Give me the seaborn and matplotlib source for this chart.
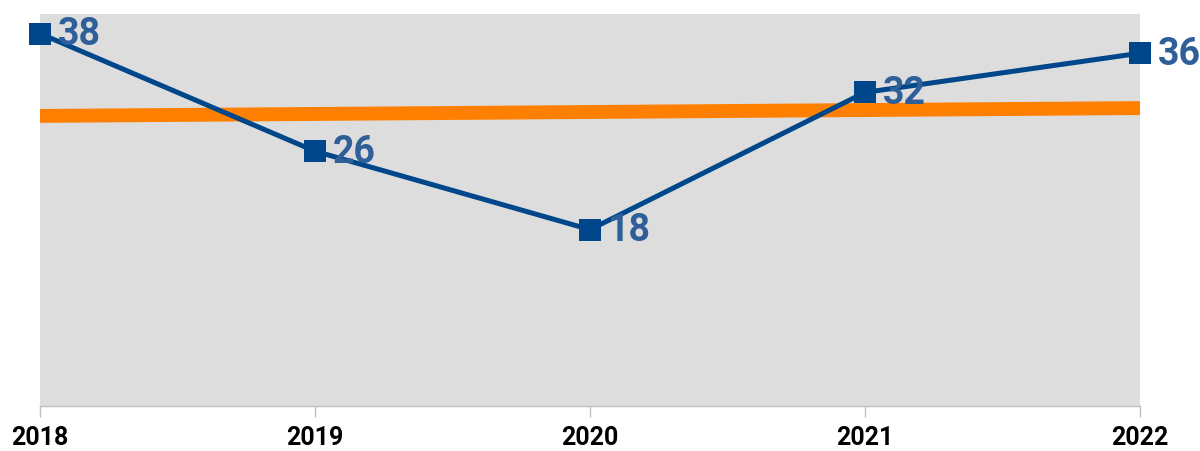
import numpy as np
import pandas as pd
import seaborn as sns
import matplotlib.pyplot as plt

years = ["2018", "2019", "2020", "2021", "2022"]
values = [38, 26, 18, 32, 36]

df = pd.DataFrame({"pos": np.arange(len(years)), "year": years, "value": values})

sns.set_style("white")
plt.rcParams["font.family"] = ["Roboto", "DejaVu Sans"]

fig = plt.figure(figsize=(12, 4.52), dpi=100)
ax = fig.add_axes([40 / 1200, 1 - 407 / 452, 1100 / 1200, 392 / 452])
ax.set_facecolor("#dddddd")

# trend line
sns.regplot(data=df, x="pos", y="value", scatter=False, ci=None, ax=ax,
            line_kws=dict(color="#ff8000", linewidth=10, solid_capstyle="butt", zorder=2))

sns.lineplot(data=df, x="pos", y="value", ax=ax, color="#00468b", linewidth=3.6,
             marker="s", markersize=16, markeredgewidth=0, zorder=3)

for p, v in zip(df["pos"], df["value"]):
    ax.annotate(str(v), xy=(p, v), xytext=(13, 0), textcoords="offset points",
                color="#2e5f99", fontsize=27, fontweight="bold", va="center", ha="left",
                annotation_clip=False, clip_on=False, zorder=4)

ax.set_xlim(0, len(years) - 1)
ax.set_ylim(0, 40)
ax.set_xticks(df["pos"])
ax.set_xticklabels(years, fontsize=18, fontweight="bold", color="black")
ax.set_yticks([])
ax.set_xlabel("")
ax.set_ylabel("")
for s in ["top", "right", "left"]:
    ax.spines[s].set_visible(False)
ax.spines["bottom"].set_color("#bfbfbf")
ax.spines["bottom"].set_linewidth(1)
ax.tick_params(axis="x", bottom=True, length=8, width=1, color="#bfbfbf", pad=6)
for line in ax.lines:
    line.set_clip_on(False)

fig.savefig("out.png", dpi=100)
